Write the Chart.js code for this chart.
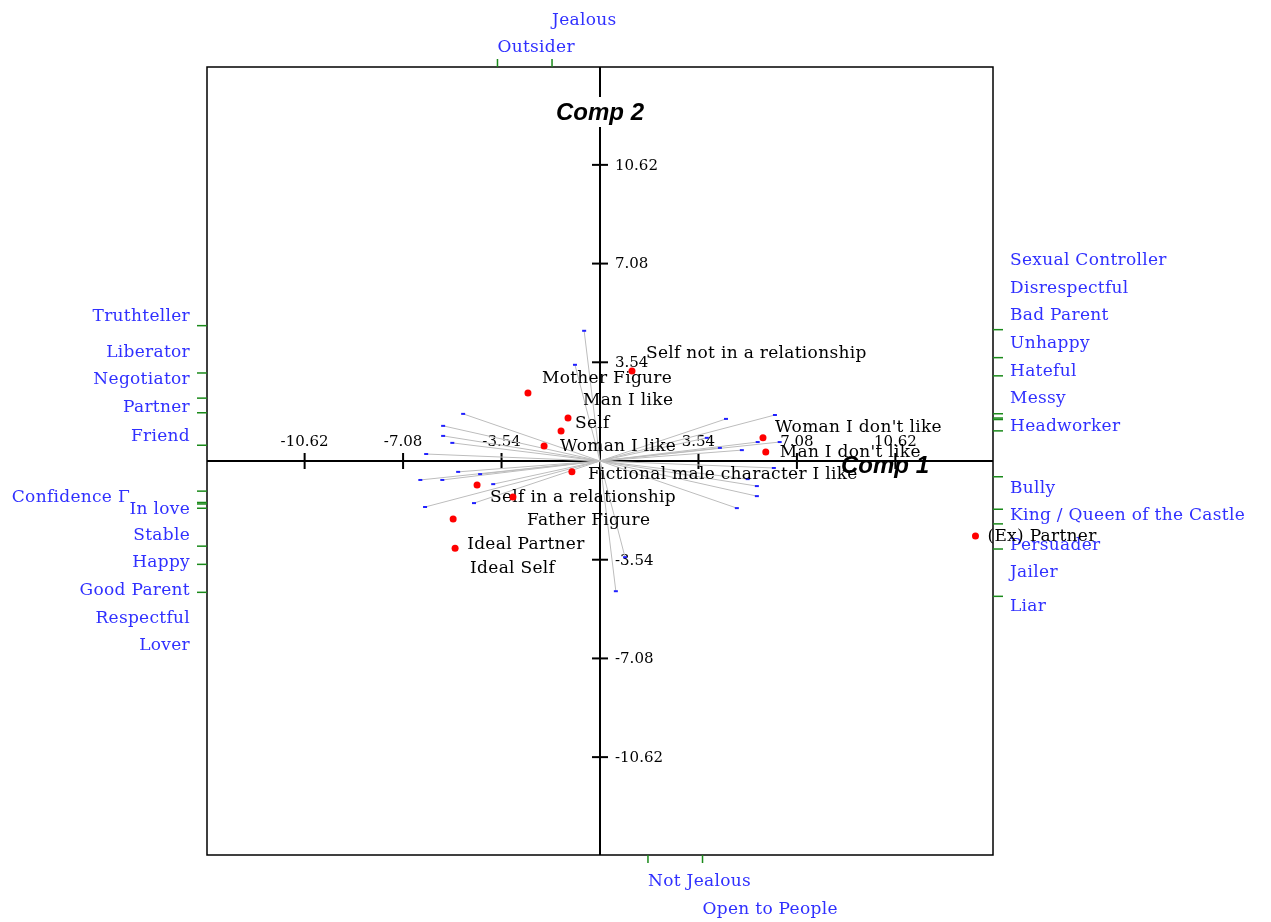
<!DOCTYPE html>
<html>
<head>
<meta charset="utf-8">
<script src="https://cdn.jsdelivr.net/npm/chart.js@4.4.0/dist/chart.umd.min.js"></script>
<style>
  html, body { margin: 0; padding: 0; background: #fff; }
  #wrap { width: 1271px; height: 922px; }
</style>
</head>
<body>
<div id="wrap"><canvas id="grid"></canvas></div>
<script>
const AXIS_MAX = 14.13;
const tickValues = [-10.62, -7.08, -3.54, 3.54, 7.08, 10.62];
const tickLabels = ["-10.62", "-7.08", "-3.54", "3.54", "7.08", "10.62"];

// constructs: emergent pole sits at (constructX, constructY), contrast pole opposite
const emergentPoles = ["Truthteller", "Liberator", "Negotiator", "Partner", "Friend", "Confidence Γ",
  "In love", "Stable", "Happy", "Good Parent", "Respectful", "Lover", "Jealous", "Outsider"];
const contrastPoles = ["Liar", "Jailer", "Persuader", "King / Queen of the Castle", "Bully", "Headworker",
  "Messy", "Hateful", "Unhappy", "Bad Parent", "Disrespectful", "Sexual Controller", "Not Jealous", "Open to People"];
const constructX = [-4.92, -5.64, -5.64, -5.31, -6.25, -5.10, -6.46, -4.31, -5.67, -3.84, -6.29, -4.53, -0.57, -0.90];
const constructY = [1.69, 1.26, 0.90, 0.65, 0.25, -0.39, -0.68, -0.47, -0.68, -0.83, -1.65, -1.51, 4.67, 3.45];

// elements
const elementNames = ["Self", "Self not in a relationship", "Self in a relationship", "Ideal Self",
  "Mother Figure", "Father Figure", "(Ex) Partner", "Ideal Partner", "Man I like", "Woman I like",
  "Man I don't like", "Woman I don't like", "Fictional male character I like"];
const elementX = [-1.40, 1.15, -4.42, -5.21, -2.59, -3.13, 13.50, -5.28, -1.15, -2.01, 5.96, 5.86, -1.01];
const elementY = [1.08, 3.23, -0.86, -3.13, 2.44, -1.29, -2.69, -2.08, 1.54, 0.54, 0.32, 0.83, -0.39];

// label layout (pixels)
const elementLabelDx = [14, 14, 13, 15, 14, 14, 12, 14, 15, 16, 14, 12, 16];
const elementLabelDy = [-7, -17, 13, 20, -14, 24, 1, 26, -17, 1, 1, -10, 3];
const emergentLabelY = [317, 353, 380, 408, 437, 498, 510, 536, 563, 591, 619, 646, 21, 48];
const emergentLabelShift = [0, 0, 0, 0, 0, -60, 0, 0, 0, 0, 0, 0, 0, 0];
const contrastLabelY = [607, 573, 546, 516, 489, 427, 399, 372, 344, 316, 289, 261, 882, 910];

const SERIF = '"DejaVu Serif", serif';

const biplotDecor = {
  id: "biplotDecor",
  beforeDatasetsDraw(chart) {
    const { ctx, chartArea: a, scales: { x, y } } = chart;
    const x0 = x.getPixelForValue(0), y0 = y.getPixelForValue(0);
    const line = (x1, y1, x2, y2) => { ctx.beginPath(); ctx.moveTo(x1, y1); ctx.lineTo(x2, y2); ctx.stroke(); };
    ctx.save();
    ctx.strokeStyle = "#000";
    ctx.lineWidth = 1.5;
    ctx.strokeRect(a.left, a.top, a.right - a.left, a.bottom - a.top);
    ctx.lineWidth = 2;
    line(a.left, y0, a.right, y0);
    line(x0, a.top, x0, a.bottom);
    tickValues.forEach(v => {
      const px = x.getPixelForValue(v), py = y.getPixelForValue(v);
      line(px, y0 - 8, px, y0 + 8);
      line(x0 - 8, py, x0 + 8, py);
    });
    ctx.fillStyle = "#000";
    ctx.font = "15px " + SERIF;
    ctx.textBaseline = "middle";
    ctx.textAlign = "center";
    tickValues.forEach((v, i) => ctx.fillText(tickLabels[i], x.getPixelForValue(v), y0 - 19));
    ctx.textAlign = "left";
    tickValues.forEach((v, i) => ctx.fillText(tickLabels[i], x0 + 15, y.getPixelForValue(v) + 1));

    // axis titles
    ctx.font = 'italic bold 24px "Liberation Sans", Arial, sans-serif';
    ctx.textAlign = "center";
    const c2w = ctx.measureText("Comp 2").width;
    ctx.fillStyle = "#fff";
    ctx.fillRect(x0 - c2w / 2 - 2, a.top + 30, c2w + 4, 30);
    ctx.fillStyle = "#000";
    ctx.fillText("Comp 2", x0, a.top + 46);
    ctx.fillText("Comp 1", a.right - 108, y0 + 5);

    // pole marks and labels
    ctx.font = "17px " + SERIF;
    ctx.letterSpacing = "0.3px";
    const drawPole = (vx, vy, name, ly, shift) => {
      const k = AXIS_MAX / Math.max(Math.abs(vx), Math.abs(vy));
      const hx = x.getPixelForValue(vx * k), hy = y.getPixelForValue(vy * k);
      ctx.strokeStyle = "#1a8a1a";
      ctx.lineWidth = 1.5;
      ctx.fillStyle = "#3030ff";
      if (Math.abs(vx) >= Math.abs(vy)) {
        const dir = vx < 0 ? -1 : 1;
        line(hx, hy, hx + dir * 10, hy);
        ctx.textAlign = dir < 0 ? "right" : "left";
        ctx.fillText(name, hx + dir * 17 + shift, ly);
      } else {
        const dir = vy > 0 ? -1 : 1;
        line(hx, hy, hx, hy + dir * 8);
        ctx.textAlign = "left";
        ctx.fillText(name, hx, ly);
      }
    };
    emergentPoles.forEach((name, i) => {
      drawPole(constructX[i], constructY[i], name, emergentLabelY[i], emergentLabelShift[i]);
      drawPole(-constructX[i], -constructY[i], contrastPoles[i], contrastLabelY[i], 0);
    });
    ctx.restore();
  },
  afterDatasetDraw(chart, args) {
    if (args.index !== 1) return;
    const { ctx, scales: { x, y } } = chart;
    ctx.save();
    ctx.font = "17px " + SERIF;
    ctx.letterSpacing = "0.3px";
    ctx.fillStyle = "#000";
    ctx.textAlign = "left";
    ctx.textBaseline = "middle";
    elementNames.forEach((name, i) => {
      ctx.fillText(name, x.getPixelForValue(elementX[i]) + elementLabelDx[i],
        y.getPixelForValue(elementY[i]) + elementLabelDy[i]);
    });
    ctx.restore();
  }
};

const lineSets = constructX.map((vx, i) => ({
  data: [{ x: vx, y: constructY[i] }, { x: -vx, y: -constructY[i] }],
  showLine: true,
  borderColor: "#bdbdbd",
  borderWidth: 1,
  pointRadius: 0
}));

const poleEnds = [];
constructX.forEach((vx, i) => {
  poleEnds.push({ x: vx, y: constructY[i] });
  poleEnds.push({ x: -vx, y: -constructY[i] });
});

new Chart(document.getElementById("grid"), {
  type: "scatter",
  data: {
    datasets: [
      {
        label: "Elements",
        data: elementX.map((v, i) => ({ x: v, y: elementY[i] })),
        pointStyle: "circle",
        pointRadius: 3.5,
        backgroundColor: "#ff0000",
        borderColor: "#ff0000",
        borderWidth: 0
      },
      {
        label: "Constructs",
        data: poleEnds,
        pointStyle: "line",
        pointRadius: 2,
        borderColor: "#2020ff",
        borderWidth: 2
      },
      ...lineSets
    ]
  },
  options: {
    responsive: true,
    maintainAspectRatio: false,
    animation: false,
    devicePixelRatio: 1,
    layout: { padding: { left: 207, right: 278, top: 67, bottom: 67 } },
    scales: {
      x: { type: "linear", min: -AXIS_MAX, max: AXIS_MAX, display: false },
      y: { type: "linear", min: -AXIS_MAX, max: AXIS_MAX, display: false }
    },
    plugins: {
      legend: { display: false },
      tooltip: { enabled: false }
    }
  },
  plugins: [biplotDecor]
});
</script>
</body>
</html>
